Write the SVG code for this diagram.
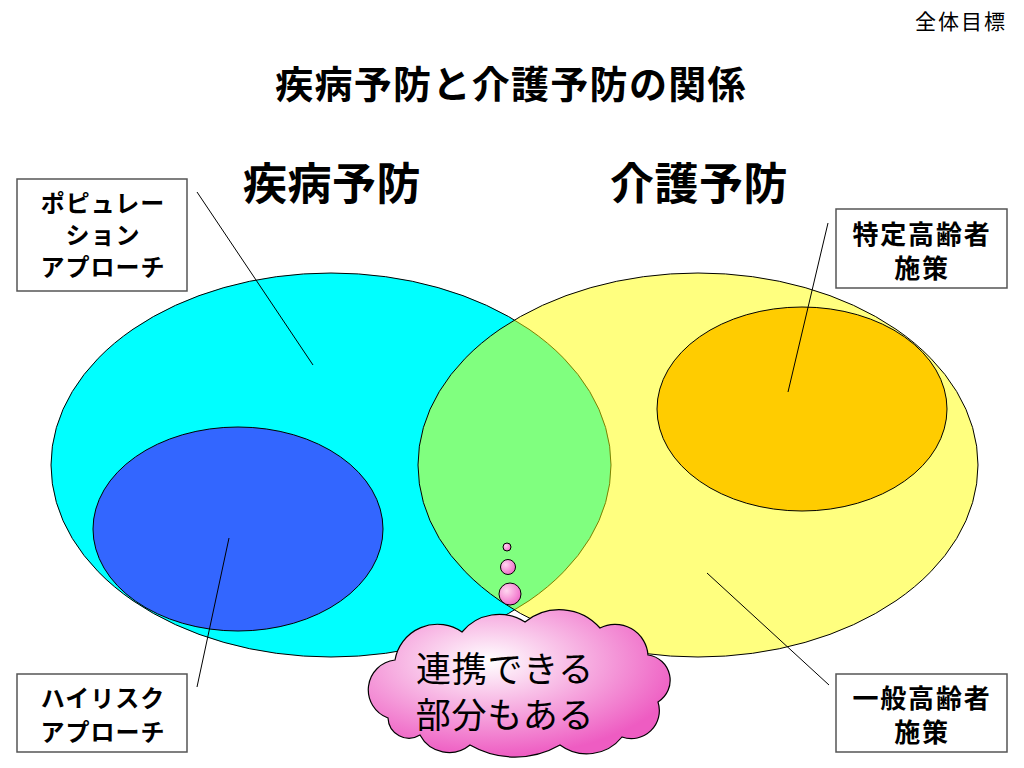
<svg xmlns="http://www.w3.org/2000/svg" width="1024" height="768" viewBox="0 0 1024 768">
<style>
.t{font-family:"Noto Sans CJK JP","Noto Sans CJK SC",sans-serif;fill:#000}
.b{font-weight:bold}
.box{fill:#fff;stroke:#555;stroke-width:1.5}
.ell{stroke:#000;stroke-width:1}
.lead{stroke:#000;stroke-width:1;fill:none}
</style>
<defs>
<radialGradient id="pink" cx="0.4" cy="0.35" r="0.65">
<stop offset="0" stop-color="#ffffff"/>
<stop offset="1" stop-color="#ee5cc2"/>
</radialGradient>
<radialGradient id="pinkS" cx="0.35" cy="0.35" r="0.7">
<stop offset="0" stop-color="#ffd6f0"/>
<stop offset="1" stop-color="#f06ac8"/>
</radialGradient>
</defs>
<rect width="1024" height="768" fill="#fff"/>
<text class="t" x="1007" y="29" font-size="21" letter-spacing="2" text-anchor="end">全体目標</text>
<text class="t b" x="511" y="98" font-size="38" letter-spacing="1.3" text-anchor="middle">疾病予防と介護予防の関係</text>

<g id="cyan-ellipse"><ellipse class="ell" cx="331" cy="465" rx="280" ry="192" fill="#00ffff"/></g>
<g id="blue-ellipse"><ellipse class="ell" cx="238" cy="529" rx="145" ry="102" fill="#3366ff"/></g>
<g id="yellow-ellipse"><ellipse class="ell" cx="698" cy="465" rx="280" ry="192" fill="#ffff00" fill-opacity="0.5"/></g>
<g id="orange-ellipse"><ellipse class="ell" cx="802" cy="409" rx="145" ry="102" fill="#ffcc00"/></g>

<g id="label-disease"><text class="t b" x="332" y="200" font-size="44" letter-spacing="0.5" text-anchor="middle">疾病予防</text></g>
<g id="label-care"><text class="t b" x="699" y="200" font-size="44" letter-spacing="0.5" text-anchor="middle">介護予防</text></g>

<g id="connectors">
<line class="lead" x1="197" y1="192" x2="313" y2="365"/>
<line class="lead" x1="828" y1="223" x2="788" y2="392"/>
<line class="lead" x1="229" y1="538" x2="197" y2="687"/>
<line class="lead" x1="707" y1="573" x2="829" y2="685"/>
</g>

<g id="box-population">
<rect class="box" x="17" y="179" width="170" height="112"/>
<text class="t b" font-size="24" letter-spacing="1" text-anchor="middle"><tspan x="103" y="212">ポピュレー</tspan><tspan x="103" y="244">ション</tspan><tspan x="103" y="276">アプローチ</tspan></text>
</g>
<g id="box-specific">
<rect class="box" x="836" y="209" width="171" height="79"/>
<text class="t b" font-size="26" letter-spacing="1.8" text-anchor="middle"><tspan x="922" y="244">特定高齢者</tspan><tspan x="922" y="278">施策</tspan></text>
</g>
<g id="box-highrisk">
<rect class="box" x="17" y="674" width="170" height="78"/>
<text class="t b" font-size="24" letter-spacing="1" text-anchor="middle"><tspan x="103" y="707">ハイリスク</tspan><tspan x="103" y="741">アプローチ</tspan></text>
</g>
<g id="box-general">
<rect class="box" x="836" y="674" width="171" height="78"/>
<text class="t b" font-size="26" letter-spacing="1.8" text-anchor="middle"><tspan x="922" y="708">一般高齢者</tspan><tspan x="922" y="742">施策</tspan></text>
</g>

<g id="thought-bubbles">
<circle cx="507" cy="547" r="4" fill="url(#pinkS)" stroke="#000" stroke-width="1"/>
<circle cx="508" cy="567" r="7.5" fill="url(#pinkS)" stroke="#000" stroke-width="1"/>
<circle cx="510" cy="594" r="11" fill="url(#pinkS)" stroke="#000" stroke-width="1"/>
</g>
<g id="cloud">
<path d="M388 718 A30 30 0 0 1 395 660 A43 43 0 0 1 462 632 A48 48 0 0 1 525 622 A54 54 0 0 1 600 628 A33 33 0 0 1 648 655 A25.5 25.5 0 0 1 658 702 A28 28 0 0 1 622 737 A45 45 0 0 1 560 745 A90 90 0 0 1 470 745 A33 33 0 0 1 420 735 A21 21 0 0 1 388 718 Z" fill="url(#pink)" stroke="#000" stroke-width="1.2"/>
<text class="t" font-size="35" letter-spacing="0.7" text-anchor="middle"><tspan x="505" y="682">連携できる</tspan><tspan x="505" y="728">部分もある</tspan></text>
</g>
</svg>
